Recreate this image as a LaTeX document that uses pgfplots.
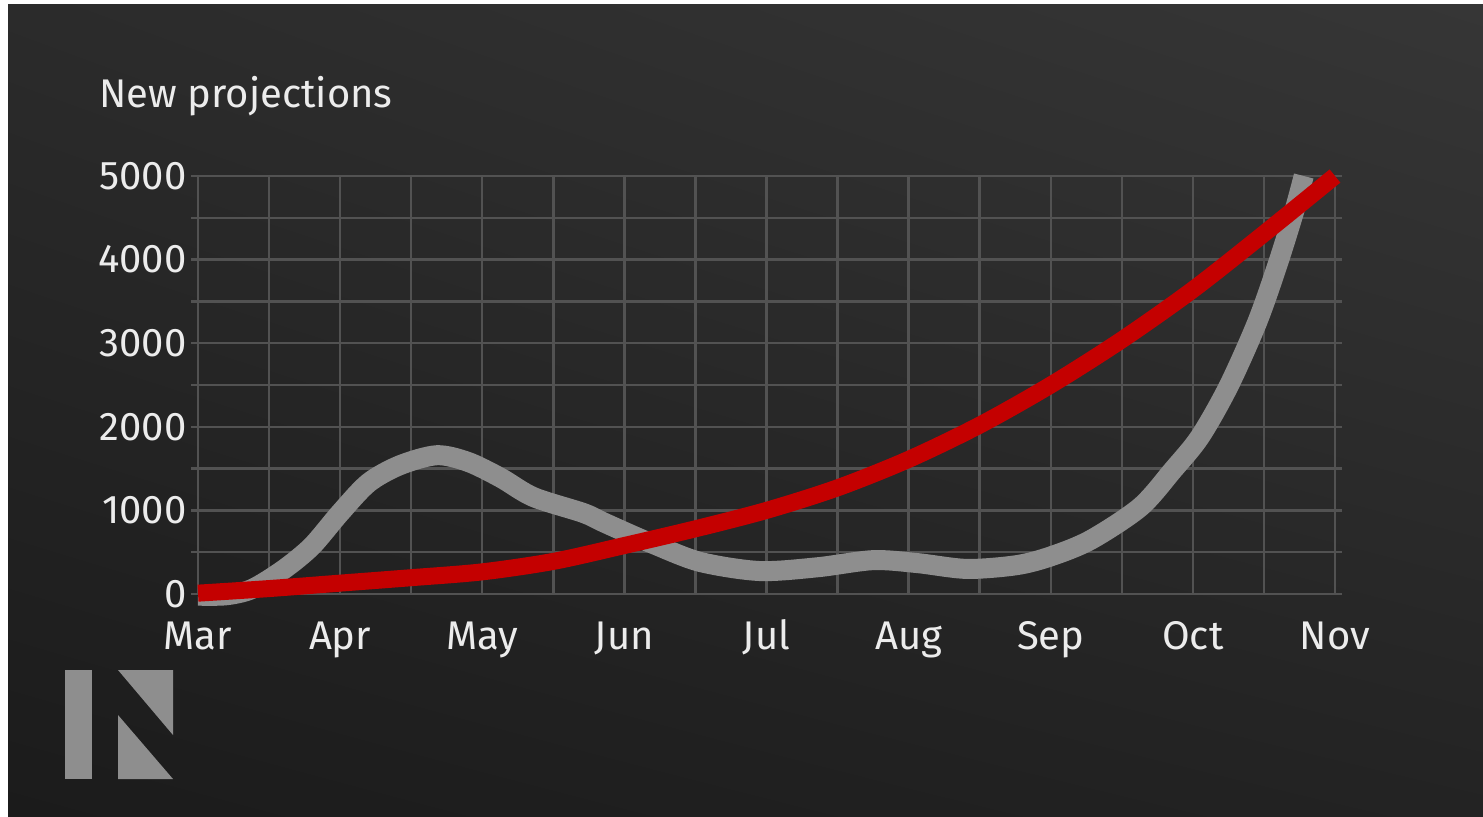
\documentclass[border=0pt]{standalone}
\usepackage{pgfplots}
\pgfplotsset{compat=1.18}
\usetikzlibrary{shadings}
\usepackage{fontspec}
\setmainfont{Fira Sans}
\definecolor{bgUL}{HTML}{2B2B2B}
\definecolor{bgUR}{HTML}{363636}
\definecolor{bgLL}{HTML}{1B1B1B}
\definecolor{bgLR}{HTML}{232323}
\definecolor{gridcol}{HTML}{525252}
\definecolor{labelcol}{HTML}{ECECEC}
\definecolor{logocol}{HTML}{8E8E8E}
\definecolor{grayline}{HTML}{8E8E8E}
\definecolor{redline}{HTML}{C40000}
\begin{document}
\begin{tikzpicture}[x=0.5pt,y=0.5pt]
\useasboundingbox (0,0) rectangle (1483,816);
\fill[white] (0,0) rectangle (1483,816);
\shade[upper left=bgUL, upper right=bgUR, lower left=bgLL, lower right=bgLR] (8,0) rectangle (1483,811);
% logo
\fill[logocol] (65,37) rectangle (92,146);
\fill[logocol] (118,146) -- (173,146) -- (173,81) -- cycle;
\fill[logocol] (118,101) -- (118,37) -- (173,37) -- cycle;
% title
\node[anchor=base west, text=labelcol, font=\fontsize{20}{24}\selectfont, inner sep=0pt] at (99,708) {New projections};
\begin{axis}[
  at={(99pt,111pt)}, anchor=origin,
  scale only axis, width=568.5pt, height=209pt,
  xmin=0, xmax=8, ymin=0, ymax=5000,
  clip=false,
  axis line style={draw=gridcol, line width=1.2pt},
  grid=both,
  major grid style={draw=gridcol, line width=1.2pt},
  minor grid style={draw=gridcol, line width=1.2pt},
  xtick={0,1,2,3,4,5,6,7,8},
  xticklabels={Mar,Apr,May,Jun,Jul,Aug,Sep,Oct,Nov},
  minor xtick={0.5,1.5,2.5,3.5,4.5,5.5,6.5,7.5},
  ytick={0,1000,2000,3000,4000,5000},
  yticklabels={0,1000,2000,3000,4000,5000},
  minor ytick={500,1500,2500,3500,4500},
  tick align=outside,
  ytick pos=both,
  yticklabel pos=left,
  xtick pos=bottom,
  major tick length=3.5pt, minor tick length=3.5pt,
  every tick/.style={draw=gridcol, line width=1.2pt},
  major x tick style={draw=none}, minor x tick style={draw=none},
  yticklabel style={anchor=east, inner sep=0pt, xshift=-2pt, text=labelcol, font=\fontsize{20}{24}\selectfont},
  xticklabel style={anchor=base, inner sep=0pt, yshift=-24pt, text=labelcol, font=\fontsize{20}{24}\selectfont},
]
\addplot[draw=grayline, line width=10pt, line cap=butt, smooth, tension=0.5] table {
x y
0 -20
0.2 -15
0.38 60
0.6 290
0.8 570
1.0 970
1.2 1330
1.42 1540
1.68 1660
1.9 1580
2.13 1390
2.36 1160
2.71 970
2.85 860
3.06 700
3.2 600
3.53 385
3.95 275
4.36 320
4.75 405
5.06 370
5.41 300
5.76 345
6.0 450
6.28 646
6.63 1040
6.86 1483
7.05 1880
7.25 2480
7.45 3240
7.59 3910
7.71 4560
7.78 5000
};
\addplot[draw=redline, line width=8.5pt, line cap=butt, smooth] table {
x y
0 10
0.5 65
1 130
1.5 195
2 265
2.5 390
3 580
3.5 780
4 1000
4.5 1270
5 1610
5.5 2020
6 2500
6.5 3040
7 3640
7.5 4310
8 5000
};
\end{axis}
\end{tikzpicture}
\end{document}
